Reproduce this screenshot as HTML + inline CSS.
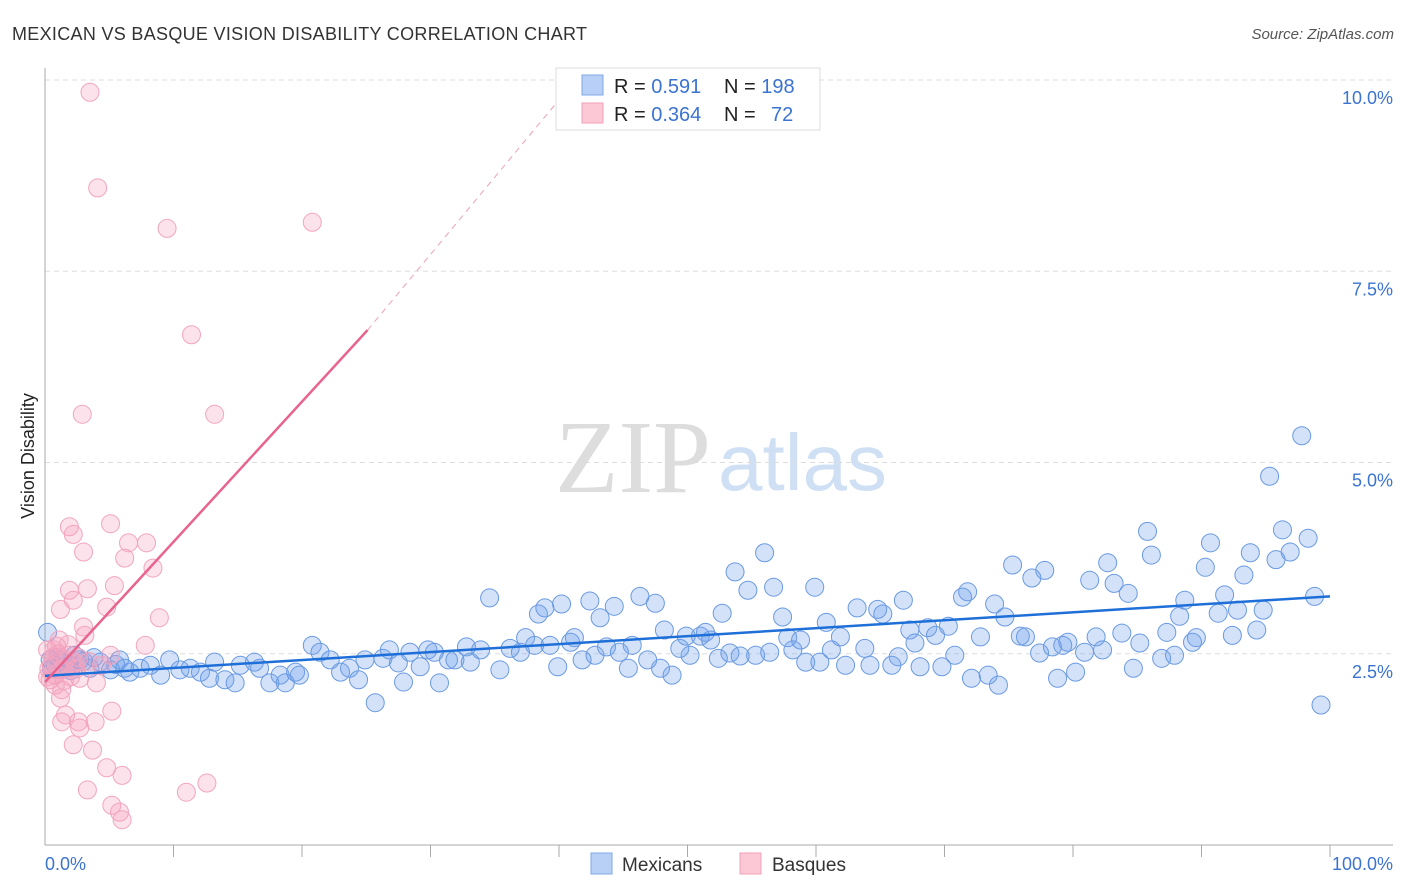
<!DOCTYPE html>
<html><head><meta charset="utf-8"><style>
body{margin:0;background:#fff;font-family:"Liberation Sans",sans-serif}
svg{display:block}
</style></head><body>
<svg id="chart" width="1406" height="892">
<text x="12" y="40" font-size="18" fill="#333" textLength="575">MEXICAN VS BASQUE VISION DISABILITY CORRELATION CHART</text>
<text x="1394" y="39" font-size="15" fill="#555" font-style="italic" text-anchor="end">Source: ZipAtlas.com</text>
<g>
<text x="555" y="492" font-size="104" font-family="Liberation Serif,serif" fill="#ddd">ZIP</text>
<text x="718" y="490" font-size="80" fill="#cfe0f5">atlas</text>
</g>
<g id="grid"></g>
<g id="axes"></g>
<g id="pts"></g>
<g id="trend"></g>
<text x="0" y="0" transform="translate(34,456) rotate(-90)" font-size="18" fill="#222" text-anchor="middle">Vision Disability</text>
<g>
<rect x="556" y="68" width="264" height="62" fill="#fff" stroke="#ddd"/>
<rect x="582" y="75" width="21" height="20" fill="#b8d0f5" stroke="#7fa8e6"/>
<rect x="582" y="103" width="21" height="20" fill="#fcc8d6" stroke="#f2a0b8"/>
<text x="614" y="93" font-size="20" fill="#222">R = <tspan fill="#3b73d1"> 0.591</tspan><tspan x="724">N = </tspan><tspan fill="#3b73d1">198</tspan></text>
<text x="614" y="121" font-size="20" fill="#222">R = <tspan fill="#3b73d1">0.364</tspan><tspan x="724">N = </tspan><tspan fill="#3b73d1" x="771">72</tspan></text>
</g>
<g>
<rect x="591" y="853" width="21" height="21" fill="#b8d0f5" stroke="#7fa8e6"/>
<text x="622" y="871" font-size="19" fill="#333">Mexicans</text>
<rect x="740" y="853" width="21" height="21" fill="#fcc8d6" stroke="#f2a0b8"/>
<text x="772" y="871" font-size="19" fill="#333">Basques</text>
</g>
</svg>
<script>
const yTicks=[2.5,5.0,7.5,10.0];
const yTickLabels=["2.5%","5.0%","7.5%","10.0%"];
const xEndLabels=["0.0%","100.0%"];
const mexX=[0.2,1.2,1.9,2.7,3.5,4.3,5.1,5.8,6.6,7.4,8.2,9.0,9.7,10.5,11.3,12.1,12.8,13.2,14.0,14.8,15.2,16.3,16.7,17.5,18.3,18.7,19.5,19.8,20.8,21.4,22.2,23.0,23.7,24.4,24.9,25.7,26.3,26.8,27.5,27.9,28.4,29.2,29.8,30.3,30.7,31.4,31.9,32.8,33.1,33.9,34.6,35.4,36.2,37.0,37.4,38.1,38.4,38.9,39.3,39.9,40.2,40.9,41.2,41.8,42.4,42.8,43.2,43.7,44.3,44.7,45.4,45.7,46.3,46.9,47.5,47.9,48.2,48.8,49.4,49.9,50.2,51.0,51.4,51.8,52.4,52.7,53.3,53.7,54.1,54.7,55.3,56.0,56.4,56.7,57.4,57.8,58.2,58.8,59.2,59.9,60.3,60.8,61.2,61.9,62.3,63.2,63.8,64.2,64.8,65.2,65.9,66.4,66.8,67.3,67.7,68.1,68.7,69.3,69.8,70.3,70.8,71.4,71.8,72.1,72.8,73.4,73.9,74.2,74.7,75.3,75.9,76.3,76.8,77.4,77.8,78.4,78.8,79.2,79.6,80.2,80.9,81.3,81.8,82.3,82.7,83.2,83.8,84.3,84.7,85.2,85.8,86.1,86.9,87.3,87.9,88.3,88.7,89.3,89.6,90.3,90.7,91.3,91.8,92.4,92.8,93.3,93.8,94.3,94.8,95.3,95.8,96.3,96.9,97.8,98.3,98.8,99.3,0.4,0.8,1.6,2.3,0.5,1.0,1.4,2.0,3.0,3.8,5.5,6.2];
const mexY=[2.78,2.42,2.35,2.42,2.31,2.39,2.29,2.42,2.26,2.31,2.35,2.22,2.42,2.29,2.31,2.26,2.18,2.39,2.16,2.12,2.35,2.39,2.31,2.12,2.22,2.12,2.26,2.22,2.61,2.52,2.42,2.26,2.31,2.16,2.42,1.86,2.44,2.55,2.38,2.13,2.52,2.33,2.55,2.52,2.12,2.42,2.42,2.59,2.39,2.55,3.23,2.29,2.57,2.52,2.71,2.61,3.02,3.10,2.61,2.33,3.15,2.65,2.71,2.42,3.19,2.48,2.97,2.59,3.12,2.52,2.31,2.61,3.25,2.42,3.16,2.31,2.81,2.22,2.57,2.73,2.48,2.73,2.78,2.68,2.44,3.03,2.51,3.57,2.47,3.33,2.48,3.82,2.52,3.37,2.98,2.71,2.55,2.68,2.39,3.37,2.39,2.91,2.55,2.72,2.35,3.10,2.57,2.35,3.08,3.02,2.35,2.46,3.20,2.81,2.64,2.33,2.84,2.74,2.33,2.86,2.48,3.24,3.31,2.18,2.72,2.22,3.15,2.09,2.98,3.66,2.73,2.72,3.49,2.51,3.59,2.59,2.18,2.61,2.65,2.26,2.52,3.46,2.72,2.55,3.69,3.42,2.77,3.29,2.31,2.64,4.10,3.79,2.44,2.78,2.48,2.99,3.20,2.65,2.71,3.63,3.95,3.03,3.27,2.74,3.07,3.53,3.82,2.81,3.07,4.82,3.73,4.12,3.83,5.35,4.01,3.25,1.83,2.42,2.35,2.31,2.48,2.30,2.45,2.38,2.28,2.40,2.45,2.36,2.31];
const basX=[3.5,4.1,9.5,20.8,11.4,2.9,13.2,1.9,5.1,2.2,6.5,7.9,3.0,6.2,8.4,1.9,3.3,5.4,1.2,2.2,4.8,8.9,3.0,1.1,3.1,7.8,5.1,0.2,0.5,0.8,1.2,1.6,1.9,2.3,0.4,0.8,1.3,2.7,4.0,1.2,1.6,5.2,1.3,2.6,3.9,2.7,2.2,3.7,4.8,6.0,3.3,11.0,12.6,5.2,5.8,6.0,0.3,0.6,1.0,1.4,0.9,2.0,0.2,1.5,2.6,3.4,4.4,0.7,1.8,2.4];
const basY=[9.84,8.59,8.06,8.14,6.67,5.63,5.63,4.16,4.20,4.06,3.95,3.95,3.83,3.75,3.62,3.33,3.35,3.39,3.08,3.20,3.11,2.97,2.85,2.68,2.74,2.61,2.48,2.55,2.35,2.22,2.29,2.42,2.48,2.38,2.16,2.09,2.03,2.18,2.12,1.92,1.70,1.75,1.61,1.61,1.61,1.53,1.31,1.24,1.01,0.91,0.72,0.69,0.81,0.52,0.43,0.33,2.30,2.45,2.50,2.30,2.60,2.20,2.20,2.15,2.45,2.40,2.35,2.55,2.62,2.30];
const mexTrend=[[0,2.21],[100,3.25]];
const basTrend=[[0,2.13],[25.1,6.73]];
const basTrendExt=[[25.1,6.73],[40,9.74]];
const X0=45,X1=1330,Y0=845,YPER=76.5;
const sx=v=>X0+(X1-X0)*v/100, sy=v=>Y0-v*YPER;
const NS="http://www.w3.org/2000/svg";
function mk(tag,attrs,parent,txt){const e=document.createElementNS(NS,tag);for(const k in attrs)e.setAttribute(k,attrs[k]);if(txt!==undefined)e.textContent=txt;parent.appendChild(e);return e;}
const grid=document.getElementById('grid'),axes=document.getElementById('axes'),pts=document.getElementById('pts'),trend=document.getElementById('trend');
yTicks.forEach((t,i)=>{
 const l=mk('line',{x1:45,x2:1393,y1:sy(t),y2:sy(t),stroke:'#ddd','stroke-dasharray':'5,4'},grid);
 
 
 const tx=mk('text',{x:1393,y:sy(t)+24,'font-size':18,fill:'#3b73d1','text-anchor':'end'},axes,yTickLabels[i]);
 
 
});
mk('line',{x1:45,x2:45,y1:68,y2:845,stroke:'#aaa'},axes);
mk('line',{x1:45,x2:1393,y1:845,y2:845,stroke:'#aaa'},axes);
for(let i=1;i<=10;i++){const t=mk('line',{x1:sx(i*10),x2:sx(i*10),y1:845,y2:857,stroke:'#aaa'},axes);}
const xl0=mk('text',{x:45,y:870,'font-size':18,fill:'#3b73d1','text-anchor':'start'},axes,xEndLabels[0]);


const xl1=mk('text',{x:1393,y:870,'font-size':18,fill:'#3b73d1','text-anchor':'end'},axes,xEndLabels[1]);


mexX.forEach((x,i)=>{const c=mk('circle',{cx:sx(x),cy:sy(mexY[i]),r:9,fill:'rgba(110,160,235,0.3)',stroke:'#6a9ae2','stroke-width':1},pts);
 
 });
basX.forEach((x,i)=>{const c=mk('circle',{cx:sx(x),cy:sy(basY[i]),r:9,fill:'rgba(245,160,190,0.3)',stroke:'#f2a5be','stroke-width':1},pts);
 
 });
const l1=mk('line',{x1:sx(mexTrend[0][0]),y1:sy(mexTrend[0][1]),x2:sx(mexTrend[1][0]),y2:sy(mexTrend[1][1]),stroke:'#1f6fd8','stroke-width':2.5},trend);


const l2=mk('line',{x1:sx(basTrend[0][0]),y1:sy(basTrend[0][1]),x2:sx(basTrend[1][0]),y2:sy(basTrend[1][1]),stroke:'#e8648e','stroke-width':2.5},trend);


const l3=mk('line',{x1:sx(basTrendExt[0][0]),y1:sy(basTrendExt[0][1]),x2:sx(basTrendExt[1][0]),y2:sy(basTrendExt[1][1]),stroke:'#f0a0b8','stroke-width':1,'stroke-dasharray':'6,5'},trend);


</script>
</body></html>
